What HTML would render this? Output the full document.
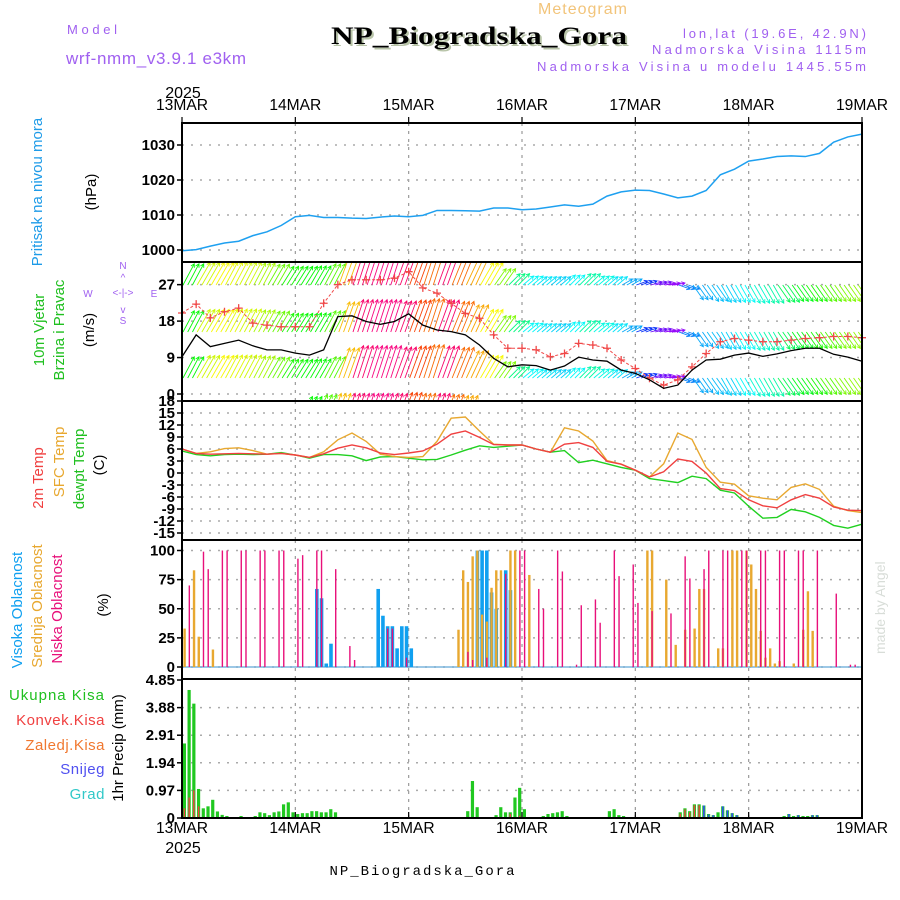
<!DOCTYPE html>
<html><head><meta charset="utf-8"><style>
html,body{margin:0;padding:0;background:#fff;}
svg{display:block;font-family:"Liberation Sans",sans-serif;}
.tk{font-size:15px;font-weight:bold;fill:#000;text-anchor:end;}
.dl{font-size:16px;fill:#000;text-anchor:middle;}
</style></head><body>
<svg id="chart" width="900" height="900" viewBox="0 0 900 900" xmlns="http://www.w3.org/2000/svg">
<defs><clipPath id="windClip"><rect x="182" y="262" width="680" height="139"/></clipPath></defs>
<text x="583" y="14" font-size="16" fill="#f2c47a" text-anchor="middle" letter-spacing="1">Meteogram</text>
<text x="481" y="46" font-size="25" font-weight="bold" font-family="Liberation Serif,serif" fill="#b8c4a8" text-anchor="middle" textLength="296" lengthAdjust="spacingAndGlyphs">NP_Biogradska_Gora</text>
<text x="479" y="44" font-size="25" font-weight="bold" font-family="Liberation Serif,serif" fill="#000" text-anchor="middle" textLength="296" lengthAdjust="spacingAndGlyphs">NP_Biogradska_Gora</text>
<text x="67" y="34" font-size="13" fill="#a060f0" textLength="50">Model</text>
<text x="66" y="64" font-size="17" fill="#a060f0" textLength="180">wrf-nmm_v3.9.1 e3km</text>
<text x="866" y="38" font-size="13" fill="#a060f0" text-anchor="end" textLength="183">lon,lat (19.6E, 42.9N)</text>
<text x="866" y="54" font-size="13" fill="#a060f0" text-anchor="end" textLength="214">Nadmorska Visina 1115m</text>
<text x="866" y="71" font-size="13" fill="#a060f0" text-anchor="end" textLength="329">Nadmorska Visina u modelu 1445.55m</text>
<text x="183" y="98" font-size="16" text-anchor="middle">2025</text>
<text x="183" y="853" font-size="16" text-anchor="middle">2025</text>
<text x="422" y="875" font-size="14" font-family="Liberation Mono,monospace" text-anchor="middle" textLength="185">NP_Biogradska_Gora</text>
<text transform="translate(885,654) rotate(-90)" font-size="14" fill="#d8ddd8">made by Angel</text>

<text transform="translate(42,192) rotate(-90)" font-size="15" fill="#1e9be8" text-anchor="middle">Pritisak na nivou mora</text>
<text transform="translate(96,192) rotate(-90)" font-size="15" text-anchor="middle">(hPa)</text>
<text transform="translate(44,330) rotate(-90)" font-size="15" fill="#20c020" text-anchor="middle">10m Vjetar</text>
<text transform="translate(64,330) rotate(-90)" font-size="15" fill="#20c020" text-anchor="middle">Brzina i Pravac</text>
<text transform="translate(94,330) rotate(-90)" font-size="15" text-anchor="middle">(m/s)</text>
<g font-size="10" fill="#a060f0" text-anchor="middle">
<text x="123" y="269">N</text><text x="123" y="324">S</text><text x="88" y="297">W</text><text x="154" y="297">E</text>
<text x="123" y="296">&lt;-|-&gt;</text><text x="123" y="281">^</text><text x="123" y="313">v</text>
</g>
<text transform="translate(43,478) rotate(-90)" font-size="15" fill="#f04040" text-anchor="middle">2m Temp</text>
<text transform="translate(64,462) rotate(-90)" font-size="15" fill="#e8a830" text-anchor="middle">SFC Temp</text>
<text transform="translate(84,469) rotate(-90)" font-size="15" fill="#20c020" text-anchor="middle">dewpt Temp</text>
<text transform="translate(104,465) rotate(-90)" font-size="15" text-anchor="middle">(C)</text>
<text transform="translate(22,610) rotate(-90)" font-size="15" fill="#10a0f0" text-anchor="middle">Visoka Oblacnost</text>
<text transform="translate(42,606) rotate(-90)" font-size="15" fill="#e8a830" text-anchor="middle">Srednja Oblacnost</text>
<text transform="translate(62,609) rotate(-90)" font-size="15" fill="#e8107a" text-anchor="middle">Niska Oblacnost</text>
<text transform="translate(108,605) rotate(-90)" font-size="15" text-anchor="middle">(%)</text>
<g font-size="15" text-anchor="end">
<text x="105" y="700" fill="#20c020" letter-spacing="1">Ukupna Kisa</text>
<text x="105" y="725" fill="#f04040" letter-spacing="0.5">Konvek.Kisa</text>
<text x="105" y="750" fill="#f07830" letter-spacing="0.5">Zaledj.Kisa</text>
<text x="105" y="774" fill="#5050f0" letter-spacing="0.5">Snijeg</text>
<text x="105" y="799" fill="#30c8c8" letter-spacing="0.5">Grad</text>
</g>
<text transform="translate(123,748) rotate(-90)" font-size="15" text-anchor="middle">1hr Precip (mm)</text>

<g id="grid"></g>
<g id="marks"></g>
<g id="frames"></g>
</svg>
<script>
// ---------- data ----------
const dayLabels = ["13MAR","14MAR","15MAR","16MAR","17MAR","18MAR","19MAR"];
const pressureTicks = [1000,1010,1020,1030];
const windTicks = [0,9,18,27];
const tempTicks = [-15,-12,-9,-6,-3,0,3,6,9,12,15,18];
const cloudTicks = [0,25,50,75,100];
const precipTicks = [0,0.97,1.94,2.91,3.88,4.85];
// 3-hourly series, t = 0..144 h
const pressure = [999.8,1000.1,1001.1,1002,1002.5,1004.1,1005.2,1007,1009.5,1009.9,1009.3,1009.3,1009.1,1009,1009.4,1009.7,1009.5,1009.9,1011.3,1011.3,1011.2,1011.1,1012,1012,1011.5,1011.7,1012.3,1012.9,1012.5,1013.1,1015.4,1016.6,1017.1,1017,1016,1014.9,1015.4,1017,1021.5,1023.1,1025.4,1026,1026.7,1026.9,1026.7,1027.6,1030.8,1032.3,1033.1];
const windSpeed = [9.2,14.6,11.7,12.5,13.3,11.9,10.9,10.9,10.1,9.6,10.9,19.1,19.3,17.9,17.2,17.9,19.8,17,15.8,15.4,14.6,12.1,8.8,6.7,7.2,7,5.9,6.9,9.1,8.4,8.1,5.9,5.1,3.5,1.4,2.2,5.9,8.4,8.6,9.6,10.1,9.3,9.9,10.7,11.3,11.3,9.8,9.1,8.1];
const windGust = [20,22.2,18.8,20.3,21.2,17.5,17,16.6,16.6,16.6,22.4,27,28.2,28.2,28.2,28.6,30.2,26.2,24.9,22.4,19.9,18.7,14.6,11.3,11.3,10.9,9.2,10,12.5,12.1,11.3,8.4,6.3,3.9,2.2,3.5,6.7,10,12.9,13.7,13.3,12.9,12.9,13.3,13.7,13.9,14.2,14.2,13.9];
const windAngle = [62,60,60,62,62,62,60,58,58,60,62,70,72,72,72,70,70,72,70,68,65,60,55,45,40,40,40,45,45,40,40,30,20,15,10,-20,-55,-55,-60,-60,-60,-60,-55,-55,-55,-55,-55,-55,-55];
const windLen = [24,26,26,26,26,25,24,22,22,22,24,32,34,34,34,33,34,35,34,33,30,26,20,16,14,13,13,14,16,14,13,12,12,12,11,12,18,20,20,20,21,21,21,20,20,20,20,20,20];
const windLowLen = [0,0,0,0,0,0,0,0,0,4,6,7,7,7,7,7,8,7,7,6,5,0,0,0,0,0,0,0,0,0,0,0,0,0,0,0,0,0,0,0,0,0,0,0,0,0,0,0,0];
const windHue = [120,70,60,65,70,80,95,115,120,120,100,45,335,330,330,335,15,25,335,25,40,60,90,150,180,185,190,180,160,175,185,200,230,265,275,210,200,195,190,180,170,160,140,125,115,100,90,85,85];
const temp2m = [6,4.9,4.7,4.8,4.9,4.8,4.7,4.9,4.5,3.9,4.8,6.2,7,6.3,5,4.6,5,5.5,7.2,9.7,10.5,8.9,7.1,7,7,6,5.2,7.2,7.6,6.4,2.9,2.2,0.7,-1,0.3,3.5,2.9,0,-3.9,-4.4,-6.7,-8.2,-8.7,-6.7,-5.4,-6.3,-8.5,-9.3,-9.4];
const tempSfc = [6,4.9,5.3,6.1,6.3,5.6,4.7,4.9,4.5,3.9,5.3,8.3,10,7.9,4.7,4.1,3.9,4.1,7.9,13.7,14,10.5,7.2,7,7,6,5.2,11.3,10.5,8,3.1,2.2,0.7,-1,2.3,10,8.4,1.4,-2.3,-2.8,-5.7,-6.3,-6.7,-3.6,-2.7,-4.1,-8.3,-9.4,-9.9];
const tempDew = [5.5,4.6,4.3,4.6,4.7,4.6,4.7,5.1,4.5,3.7,4.6,4.6,4.3,3.1,4,4.1,3.7,3.3,3.4,4.5,5.7,6.8,6.4,6.7,7,6,5.2,5.6,2.6,3.2,2.3,1.4,0.7,-1.4,-1.9,-2.4,-0.8,-1.4,-4.3,-5,-8.3,-11.3,-11.1,-9.1,-9.7,-11.1,-13.1,-13.8,-12.8];
// hourly cloud bars (hour index, percent)
const lowHours = [1,4,5,8,9,12,13,16,17,20,21,24,25,28,29,32,35,36,43,44,47,60,61,64,68,71,72,75,76,79,80,83,84,87,88,91,92,95,96,99,103,106,107,110,111,114,115,118,119,122,123,126,127,130,131,134,138,141,142];
const lowVals = [70,99,84,100,100,100,100,100,100,100,100,93,96,100,100,84,18,6,33,33,8,13,6,8,80,100,100,67,50,100,82,2,53,58,38,100,78,88,55,48,46,95,76,84,100,100,100,100,100,100,100,100,100,100,100,100,63,2,2];
const midHours = [0,2,3,6,58,59,60,61,62,63,64,65,66,67,69,70,73,98,99,102,104,106,108,109,110,113,114,116,117,119,120,121,122,123,124,125,126,129,131,132,133];
const midVals = [33,83,26,15,32,83,73,95,100,45,39,68,83,83,100,100,79,100,100,75,19,32,33,67,67,16,16,100,100,100,88,67,31,8,16,3,5,3,32,65,31];
const highHours = [28,29,30,31,41,42,43,44,45,46,47,48,62,63,64,65,66,68,69];
const highVals = [67,59,3,20,67,44,35,35,16,35,35,16,100,100,100,64,50,83,66];
// hourly precipitation (mm)
const rainHours = [0,1,2,3,4,5,6,7,8,9,12,15,16,17,18,19,20,21,22,23,24,25,26,27,28,29,30,31,32,60,61,62,66,67,68,69,70,71,72,76,77,78,79,80,81,90,91,92,93,105,106,107,108,109,110,111,112,113,114,115,116,117,127,128,129,130,131,132,133,134];
const rainVals = [2.62,4.5,4.02,1.02,0.34,0.41,0.64,0.23,0.11,0.07,0.07,0.07,0.2,0.17,0.1,0.2,0.23,0.48,0.55,0.2,0.14,0.17,0.17,0.24,0.24,0.2,0.2,0.31,0.2,0.24,1.3,0.38,0.1,0.38,0.2,0.2,0.72,1.06,0.31,0.07,0.14,0.17,0.2,0.24,0.07,0.24,0.31,0.1,0.07,0.2,0.34,0.24,0.48,0.48,0.44,0.14,0.1,0.2,0.41,0.27,0.17,0.1,0.07,0.14,0.07,0.1,0.07,0.07,0.1,0.1];
const convHours = [0,1,2,3,69,71,105,106,107,108,109,110];
const convVals = [0.34,0.72,0.97,0.41,0.14,0.08,0.15,0.3,0.2,0.45,0.45,0.3];
const snowHours = [110,111,112,114,115,116,117,128,130,133,134];
const snowVals = [0.44,0.12,0.1,0.41,0.27,0.17,0.1,0.14,0.1,0.1,0.1];

// ---------- axes ----------
const X0 = 182, X1 = 862, HOURS = 144;
const xs = h => X0 + h * (X1 - X0) / HOURS;
const yP = v => 250 - (v - 1000) * 3.5;
const yW = v => 394 - v * 4.05;
const yT = v => 473 - v * 4;
const yC = v => 667 - v * 1.165;
const yR = v => 818 - v * 28.45;
const NS = "http://www.w3.org/2000/svg";
const grid = document.getElementById('grid');
const marks = document.getElementById('marks');
const frames = document.getElementById('frames');
function mk(tag, attrs, parent) {
  const e = document.createElementNS(NS, tag);
  for (const k in attrs) e.setAttribute(k, attrs[k]);
  parent.appendChild(e);
  return e;
}
const panels = [
  {name:'pressure', top:123, bot:262, ticks:pressureTicks, f:yP, fmt:v=>v},
  {name:'wind', top:262, bot:401, ticks:windTicks, f:yW, fmt:v=>v},
  {name:'temp', top:401, bot:540, ticks:tempTicks, f:yT, fmt:v=>v},
  {name:'cloud', top:540, bot:679, ticks:cloudTicks, f:yC, fmt:v=>v},
  {name:'precip', top:679, bot:818, ticks:precipTicks, f:yR, fmt:v=>v}
];
panels.forEach(p => {
  for (let d = 1; d < 6; d++) {
    const l = mk('line', {x1:xs(d*24), x2:xs(d*24), y1:p.top, y2:p.bot, stroke:'#999', 'stroke-width':1.2, 'stroke-dasharray':'3,5'}, grid);
    
    
  }
  p.ticks.forEach(t => {
    const y = p.f(t);
    if (y > p.top + 2 && y < p.bot - 1) {
      const g = mk('line', {x1:X0, x2:X1, y1:y, y2:y, stroke:'#aaa', 'stroke-width':1.5, 'stroke-dasharray':'2,7'}, grid);
      
      
    }
    const tk = mk('line', {x1:X0-5, x2:X0, y1:y, y2:y, stroke:'#000', 'stroke-width':1.5}, frames);
    
    
    const lb = mk('text', {x:X0-7, y:y+5, class:'tk'}, frames);
    
    
    lb.textContent = p.fmt(t);
  });
  const r = mk('rect', {x:X0, y:p.top, width:X1-X0, height:p.bot-p.top, fill:'none', stroke:'#000', 'stroke-width':2}, frames);
  
  
});
dayLabels.forEach((lab, d) => {
  [[110,123,117],[833,818,812]].forEach(([ty, y1, y2]) => {
    const t = mk('text', {x:xs(d*24), y:ty, class:'dl', textLength:52, lengthAdjust:'spacingAndGlyphs'}, frames);
    
    
    t.textContent = lab;
    const k = mk('line', {x1:xs(d*24), x2:xs(d*24), y1:y1, y2:y2, stroke:'#000', 'stroke-width':1.2}, frames);
    
    
  });
});

// ---------- pressure ----------
const pPts = pressure.map((v,i) => xs(i*3) + ',' + yP(v)).join(' ');
const pl = mk('polyline', {points:pPts, fill:'none', stroke:'#1ea0f0', 'stroke-width':1.5}, marks);



// ---------- wind arrows ----------
const wg = mk('g', {'clip-path':'url(#windClip)'}, marks);


const rowBases = [285, 332, 378];
for (let h = 0; h <= HOURS; h++) {
  const i = Math.floor(h / 3);
  const a = windAngle[i] * Math.PI / 180;
  const col = 'hsl(' + windHue[i] + ',95%,50%)';
  const rows = rowBases.map(b => [b, windLen[i]]).concat([[400, windLowLen[i]]]);
  rows.forEach(([b, L]) => {
    if (L <= 0) return;
    const x0 = xs(h) + 1, x1 = x0 + L * Math.cos(a), y1 = b - L * Math.sin(a);
    const h1 = a + Math.PI - 0.5, h2 = a + Math.PI + 0.5;
    const d = 'M' + x0 + ' ' + b + 'L' + x1 + ' ' + y1 + 'M' + (x1 + 4*Math.cos(h1)) + ' ' + (y1 - 4*Math.sin(h1)) + 'L' + x1 + ' ' + y1 + 'L' + (x1 + 4*Math.cos(h2)) + ' ' + (y1 - 4*Math.sin(h2));
    const p = mk('path', {d:d, stroke:col, 'stroke-width':0.9, fill:'none'}, wg);
    
    
  });
}
const gl = mk('polyline', {points:windGust.map((v,i)=>xs(i*3)+','+yW(v)).join(' '), fill:'none', stroke:'#f04848', 'stroke-width':1, 'stroke-dasharray':'3,2'}, marks);


windGust.forEach((v,i) => {
  const x = xs(i*3), y = yW(v);
  const m = mk('path', {d:'M'+(x-4)+' '+y+'H'+(x+4)+'M'+x+' '+(y-4)+'V'+(y+4), stroke:'#f04848', 'stroke-width':1.3}, marks);
  
  
});
const sl = mk('polyline', {points:windSpeed.map((v,i)=>xs(i*3)+','+yW(v)).join(' '), fill:'none', stroke:'#000', 'stroke-width':1.3}, marks);



// ---------- temperature ----------
[[tempDew,'#20d020','dewpoint-line'],[tempSfc,'#e8a830','surface-temp-line'],[temp2m,'#f04040','temp-2m-line']].forEach(([arr,col,nm]) => {
  const l = mk('polyline', {points:arr.map((v,i)=>xs(i*3)+','+yT(v)).join(' '), fill:'none', stroke:col, 'stroke-width':1.4}, marks);
  
  
});

// ---------- clouds ----------
const cb = mk('line', {x1:X0, x2:X1, y1:yC(0), y2:yC(0), stroke:'#60a8d8', 'stroke-width':1.2}, marks);


[[highHours,highVals,'#10a0f0',3.6,'high-cloud-bar'],[midHours,midVals,'#e8a830',2.4,'mid-cloud-bar'],[lowHours,lowVals,'#e8107a',1.4,'low-cloud-bar']].forEach(([hs,vs,col,w,nm]) => {
  hs.forEach((h,k) => {
    const y = yC(vs[k]);
    const r = mk('rect', {x:xs(h)+2.6-w/2, y:y, width:w, height:yC(0)-y, fill:col}, marks);
    
    
  });
});

// ---------- precipitation ----------
[[rainHours,rainVals,'#20c820',3.2,'rain-bar'],[convHours,convVals,'#f04040',1.4,'convective-bar'],[snowHours,snowVals,'#3050f0',1.6,'snow-bar']].forEach(([hs,vs,col,w,nm]) => {
  hs.forEach((h,k) => {
    const y = yR(vs[k]);
    const r = mk('rect', {x:xs(h)+2.4-w/2, y:y, width:w, height:yR(0)-y, fill:col}, marks);
    
    
  });
});
</script>
</body></html>
